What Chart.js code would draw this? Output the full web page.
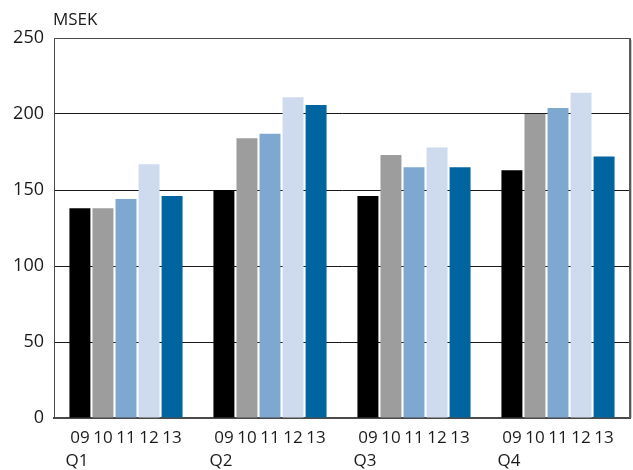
<!DOCTYPE html>
<html>
<head>
<meta charset="utf-8">
<script src="https://cdn.jsdelivr.net/npm/chart.js@4/dist/chart.umd.min.js"></script>
<style>
  html, body { margin: 0; padding: 0; background: #fff; }
  #wrap { width: 633px; height: 470px; position: relative; }
</style>
</head>
<body>
<div id="wrap"><canvas id="chart"></canvas></div>
<script>
/* DATA */

const quarters = ["Q1", "Q2", "Q3", "Q4"];

const years = ["09", "10", "11", "12", "13"];

const v09 = [138, 150, 146, 163];
const v10 = [138, 184, 173, 200];
const v11 = [144, 187, 165, 204];
const v12 = [167, 211, 178, 214];
const v13 = [146, 206, 165, 172];

const yTicks = [0, 50, 100, 150, 200, 250];

const colors = ["#000000", "#9d9d9d", "#7fa8d0", "#cedaed", "#0064a1"];

const FONT = "'Open Sans', 'DejaVu Sans', sans-serif";

/* LABELS PLUGIN */

const labelPlugin = {
  id: "labels",
  afterDraw(chart){
    const ctx = chart.ctx;
    const area = chart.chartArea;
    ctx.save();

    // frame top + right
    ctx.strokeStyle = "#4a4a4a";
    ctx.lineWidth = 1;
    ctx.beginPath();
    ctx.moveTo(area.left, area.top + 0.5);
    ctx.lineTo(area.right, area.top + 0.5);
    ctx.stroke();
    ctx.lineWidth = 2;
    ctx.strokeStyle = "#5a5a5a";
    ctx.beginPath();
    ctx.moveTo(area.right, area.top);
    ctx.lineTo(area.right, area.bottom);
    ctx.stroke();
    ctx.strokeStyle = "#c8c8c8";
    ctx.lineWidth = 1;
    ctx.beginPath();
    ctx.moveTo(area.right + 1.5, area.top + 2);
    ctx.lineTo(area.right + 1.5, area.bottom);
    ctx.stroke();

    // year labels under bars
    ctx.fillStyle = "#1a1a1a";
    ctx.font = "17px " + FONT;
    ctx.textAlign = "center";
    ctx.textBaseline = "middle";
    chart.data.datasets.forEach((ds, d) => {
      const meta = chart.getDatasetMeta(d);
      meta.data.forEach(bar => {
        ctx.fillText(years[d], bar.x, area.bottom + 20);
      });
    });

    // quarter labels
    ctx.textAlign = "left";
    const first = chart.getDatasetMeta(0).data;
    first.forEach((bar, i) => {
      ctx.fillText(quarters[i], bar.x - bar.width / 2 - 4, area.bottom + 43);
    });

    // unit
    ctx.fillText("MSEK", area.left - 1, 20);

    ctx.restore();
  }
};

/* CHART */

const datasets = [v09, v10, v11, v12, v13].map((vals, i) => ({
  label: years[i],
  data: vals,
  backgroundColor: colors[i],
  borderWidth: 0,
  categoryPercentage: 0.8,
  barPercentage: 0.91
}));

new Chart(document.getElementById("chart"), {
  type: "bar",
  data: { labels: quarters, datasets: datasets },
  plugins: [labelPlugin],
  options: {
    responsive: true,
    maintainAspectRatio: false,
    animation: false,
    layout: { padding: { top: 38, right: 3, bottom: 52, left: 0 } },
    plugins: {
      legend: { display: false },
      tooltip: { enabled: false }
    },
    scales: {
      x: {
        ticks: { display: false },
        grid: { display: false, drawTicks: false },
        border: { display: true, color: "#4a4a4a", width: 2 }
      },
      y: {
        min: 0,
        max: 250,
        afterBuildTicks(scale){
          scale.ticks = yTicks.map(v => ({ value: v }));
        },
        afterFit(scale){
          scale.width = 54;
        },
        ticks: {
          color: "#1a1a1a",
          font: { family: FONT, size: 18 },
          padding: 10
        },
        grid: {
          color: "#1a1a1a",
          lineWidth: 1,
          drawTicks: false
        },
        border: { display: true, color: "#4a4a4a", width: 1 }
      }
    }
  }
});
</script>
</body>
</html>
